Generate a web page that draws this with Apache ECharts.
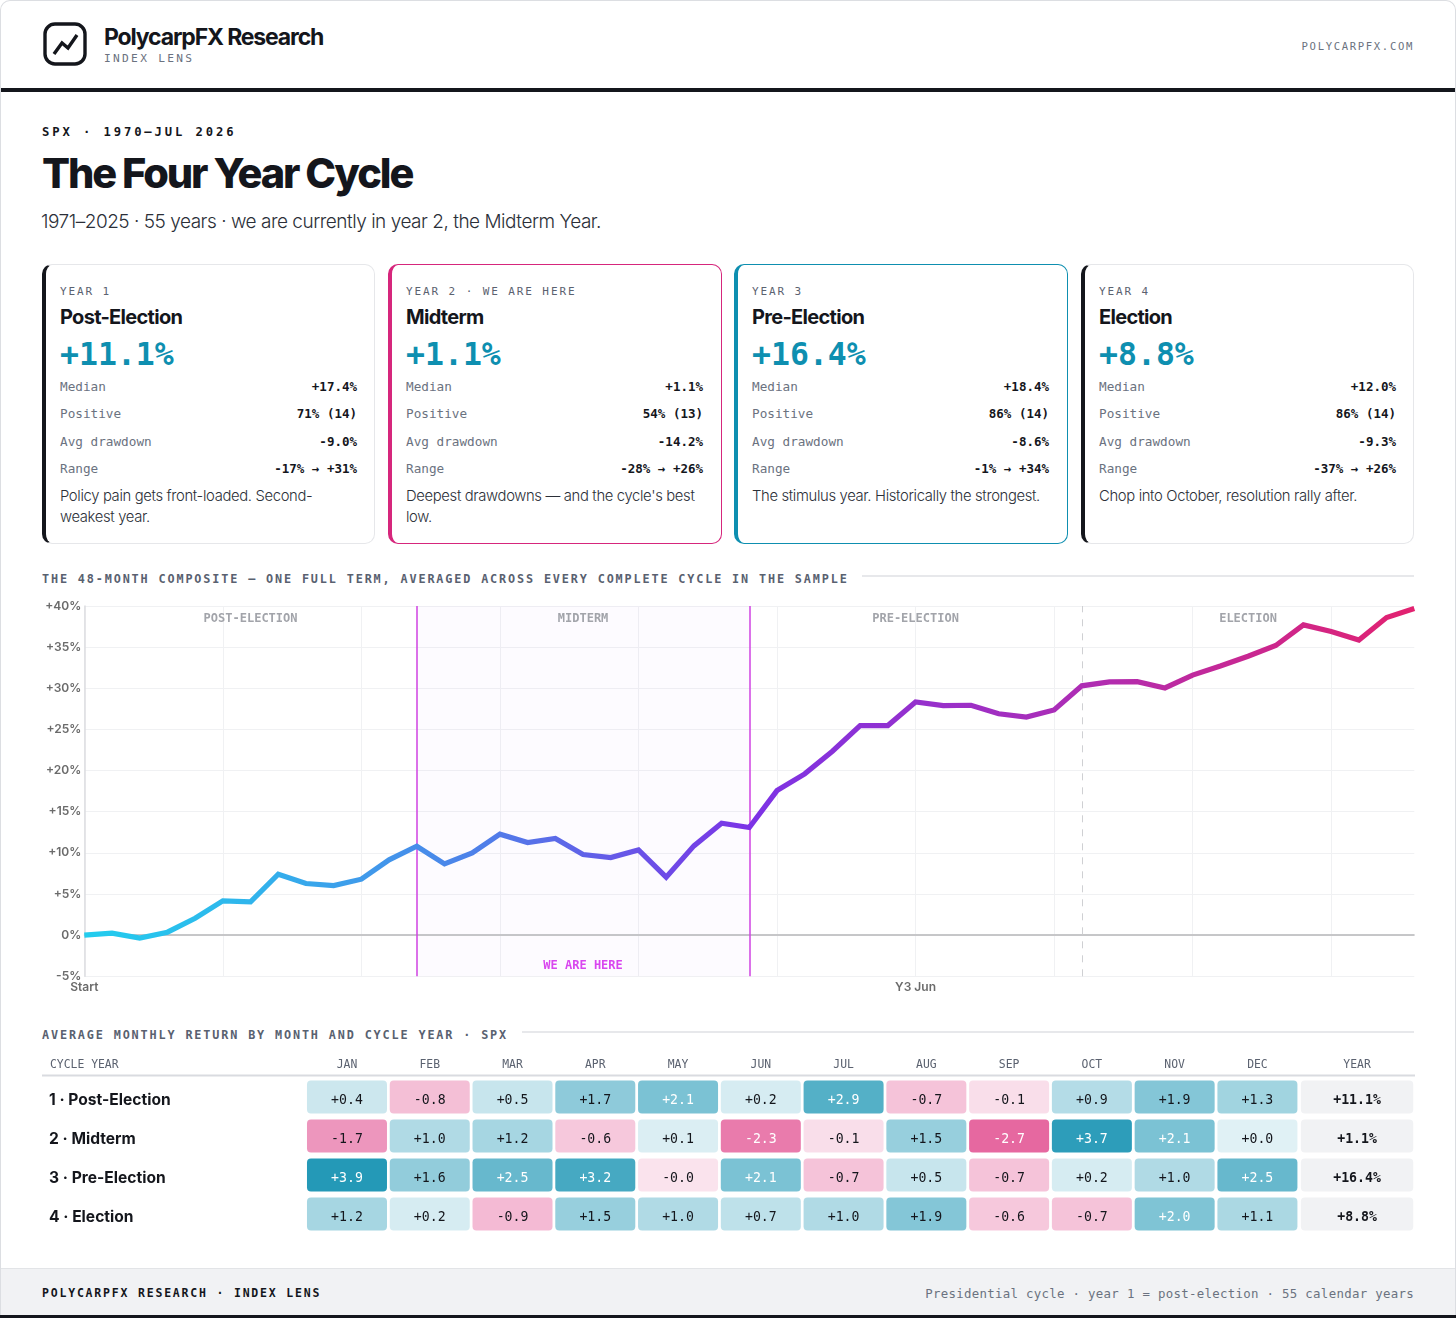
<!DOCTYPE html>
<html><head><meta charset="utf-8">
<script src="https://cdn.jsdelivr.net/npm/echarts@6/dist/echarts.min.js"></script>
<style>
html,body{margin:0;padding:0;background:#fff;width:1456px;height:1318px;overflow:hidden}
#page{position:absolute;left:0;top:0;width:1454px;height:1315px;border:1px solid #dcdee2;border-bottom:none;border-radius:10px 10px 0 0;overflow:hidden}
.a{position:absolute;white-space:nowrap}
.sans{font-family:Inter,sans-serif}
.mono{font-family:"DejaVu Sans Mono",monospace}
.card{position:absolute;top:263px;height:278px;box-sizing:content-box;background:#fff;border-radius:10px;border:1px solid #e6e7ea;border-left:4px solid #14161c}
.card .a{left:14px}
.row{position:absolute;left:14px;font:12.7px "DejaVu Sans Mono",monospace;color:#6b7280;height:16px;line-height:16px}
.row b{position:absolute;top:0;color:#14161c;font-weight:700;white-space:nowrap;font-size:12.5px}
.sec{font:700 11.8px "DejaVu Sans Mono",monospace;color:#596170;letter-spacing:1.86px}
.hr{position:absolute;height:2px;background:#e7e8eb}
</style></head><body>
<div id="page">
<svg class="a" style="left:42px;top:21px" width="45" height="45" viewBox="0 0 45 45"><rect x="2" y="2" width="40" height="40" rx="10" fill="none" stroke="#14161c" stroke-width="3.4"/><polyline points="11,32 19,21 25,26 34,13" fill="none" stroke="#14161c" stroke-width="3.4" stroke-linejoin="miter"/></svg>
<div class="a sans" style="left:103px;top:21px;font-size:23px;font-weight:700;letter-spacing:-1.15px;color:#14161c;line-height:30px">PolycarpFX Research</div>
<div class="a mono" style="left:103px;top:51px;font-size:11.2px;letter-spacing:2.3px;color:#6b7280;line-height:14px">INDEX LENS</div>
<div class="a mono" style="right:41px;top:38px;font-size:10.6px;letter-spacing:1.65px;color:#6b7280;line-height:14px">POLYCARPFX.COM</div>
<div class="a" style="left:0;top:87px;width:1456px;height:4px;background:#14161c"></div>
<div class="a mono" style="left:41px;top:124px;font-size:12.2px;font-weight:700;letter-spacing:2.9px;color:#14161c;line-height:15px">SPX · 1970–JUL 2026</div>
<div class="a sans" style="left:41px;top:146px;font-size:41.5px;font-weight:800;letter-spacing:-2.1px;color:#14161c;line-height:52px">The Four Year Cycle</div>
<div class="a sans" style="left:40px;top:208px;font-size:19px;font-weight:300;letter-spacing:-.48px;color:#2b2f38;line-height:26px">1971–2025 · 55 years · we are currently in year 2, the Midterm Year.</div>
<div id="cards"></div>
<div class="a sec" style="left:41px;top:571px;line-height:15px">THE 48-MONTH COMPOSITE — ONE FULL TERM, AVERAGED ACROSS EVERY COMPLETE CYCLE IN THE SAMPLE</div>
<div class="hr" style="left:861px;top:574px;width:552px"></div>
<div id="lineChart" class="a" style="left:-1px;top:594px;width:1456px;height:412px"></div>
<div class="a sec" style="left:41px;top:1027px;line-height:15px">AVERAGE MONTHLY RETURN BY MONTH AND CYCLE YEAR · SPX</div>
<div class="hr" style="left:521px;top:1030px;width:892px"></div>
<div id="heatChart" class="a" style="left:-1px;top:1049px;width:1456px;height:195px"></div>
<div class="a" style="left:0;top:1267px;width:1456px;height:47px;background:#f1f2f4;border-top:1px solid #e2e4e7"></div>
<div class="a mono" style="left:41px;top:1285px;font-size:11.5px;font-weight:700;letter-spacing:1.8px;color:#14161c;line-height:15px">POLYCARPFX RESEARCH · INDEX LENS</div>
<div class="a mono" style="right:41px;top:1285px;font-size:12.4px;letter-spacing:.3px;color:#6b7280;line-height:15px">Presidential cycle · year 1 = post-election · 55 calendar years</div>
</div>
<div class="a" style="left:0;top:1315px;width:1456px;height:3px;background:#14161c"></div>
<script>
// ---- card data ----
const cardLeft   = [42, 388, 734, 1081];
const cardEyebrow= ['YEAR 1','YEAR 2 · WE ARE HERE','YEAR 3','YEAR 4'];
const cardName   = ['Post-Election','Midterm','Pre-Election','Election'];
const cardMean   = ['+11.1%','+1.1%','+16.4%','+8.8%'];
const cardMedian = ['+17.4%','+1.1%','+18.4%','+12.0%'];
const cardPositive=['71% (14)','54% (13)','86% (14)','86% (14)'];
const cardDrawdown=['-9.0%','-14.2%','-8.6%','-9.3%'];
const cardRange  = ['-17% → +31%','-28% → +26%','-1% → +34%','-37% → +26%'];
const cardNote   = ['Policy pain gets front-loaded. Second-<br>weakest year.','Deepest drawdowns — and the cycle\'s best<br>low.','The stimulus year. Historically the strongest.','Chop into October, resolution rally after.'];
const cardBorder = ['#e6e7ea','#d6267c','#0e8fb0','#e6e7ea'];
const cardAccent = ['#14161c','#d6267c','#0e8fb0','#14161c'];
// ---- composite line ----
const compositeValues = [0,0.25,-0.35,0.36,2.06,4.17,4.05,7.4,6.28,6.03,6.8,9.15,10.8,8.66,10.0,12.27,11.25,11.74,9.8,9.43,10.36,7.04,10.85,13.6,13.08,17.57,19.6,22.35,25.47,25.47,28.34,27.9,27.94,26.9,26.5,27.37,30.3,30.77,30.8,30.04,31.6,32.7,33.9,35.2,37.7,36.9,35.87,38.6,39.7];
const xTickLabels = {0:'Start',30:'Y3 Jun'};
const phaseNames = ['POST-ELECTION','MIDTERM','PRE-ELECTION','ELECTION'];
// ---- monthly heat table ----
const months = ['JAN','FEB','MAR','APR','MAY','JUN','JUL','AUG','SEP','OCT','NOV','DEC'];
const cycleYears = ['1 · Post-Election','2 · Midterm','3 · Pre-Election','4 · Election'];
const year1Months = [0.4,-0.8,0.5,1.7,2.1,0.2,2.9,-0.7,-0.1,0.9,1.9,1.3];
const year2Months = [-1.7,1.0,1.2,-0.6,0.1,-2.3,-0.1,1.5,-2.7,3.7,2.1,0.0];
const year3Months = [3.9,1.6,2.5,3.2,-0.0,2.1,-0.7,0.5,-0.7,0.2,1.0,2.5];
const year4Months = [1.2,0.2,-0.9,1.5,1.0,0.7,1.0,1.9,-0.6,-0.7,2.0,1.1];
const yearTotals = ['+11.1%','+1.1%','+16.4%','+8.8%'];

// cards
const cardsEl = document.getElementById('cards');
cardLeft.forEach((l,i)=>{
  const rows = [['Median',cardMedian[i],121],['Positive',cardPositive[i],148],['Avg drawdown',cardDrawdown[i],176],['Range',cardRange[i],203]];
  const accent = i===1||i===2;
  let h = `<div class="card" style="left:${l-1}px;width:${accent?329:328}px;border-color:${cardBorder[i]};border-left-color:${cardAccent[i]};${accent?'border-width:1.3px 1.3px 1.3px 4px;':''}">`;
  h += `<div class="a mono" style="top:20px;font-size:11px;letter-spacing:1.9px;color:#5b6270;line-height:14px">${cardEyebrow[i]}</div>`;
  h += `<div class="a sans" style="top:39px;font-size:20px;font-weight:700;letter-spacing:-.7px;color:#14161c;line-height:26px">${cardName[i]}</div>`;
  h += `<div class="a mono" style="top:69px;font-size:31.5px;font-weight:700;letter-spacing:0;color:#0e8fb0;line-height:40px">${cardMean[i]}</div>`;
  rows.forEach(r=>{h += `<div class="row" style="top:${r[2]-7}px;width:297px">${r[0]}<b style="right:0">${r[1]}</b></div>`;});
  h += `<div class="a sans" style="top:221px;font-size:14.8px;font-weight:300;letter-spacing:-.34px;color:#2b2f38;line-height:21px">${cardNote[i]}</div>`;
  h += '</div>';
  cardsEl.insertAdjacentHTML('beforeend',h);
});

const MONO = '"DejaVu Sans Mono",monospace';
// line chart
const lineChart = echarts.init(document.getElementById('lineChart'));
const categories = compositeValues.map((_,i)=>String(i));
const phaseAreas = phaseNames.map((n,i)=>[
  {xAxis:String(i*12), name:n, itemStyle:{color: i===1?'rgba(168,85,247,0.025)':'rgba(0,0,0,0)'},
   label:{show:true,position:'insideTop',distance:7,formatter:n,fontFamily:MONO,fontSize:12,fontWeight:700,color:'#a2a4aa'}},
  {xAxis:String((i+1)*12)}
]);
lineChart.setOption({
  animation:false,
  grid:{left:84.3,top:11,width:1330,height:370.3,containLabel:false},
  xAxis:{type:'category',data:categories,boundaryGap:false,
    axisLine:{lineStyle:{color:'#dcdde0',width:1.5}},axisTick:{show:false},
    splitLine:{show:true,interval:i=>i%5===0,lineStyle:{color:'#f0f1f3',width:1}},
    axisLabel:{interval:0,margin:5,formatter:(v,i)=>xTickLabels[i]||'',fontFamily:'Inter',fontSize:12,fontWeight:600,color:'#6b6b6b',hideOverlap:false,showMinLabel:true,showMaxLabel:true}},
  yAxis:{type:'value',min:-5,max:40,interval:5,
    axisLine:{show:true,lineStyle:{color:'#dcdde0',width:1.5}},axisTick:{show:false},
    splitLine:{show:true,lineStyle:{color:'#f0f1f3',width:1}},
    axisLabel:{margin:3,formatter:v=>v>0?'+'+v+'%':v+'%',fontFamily:'Inter',fontSize:12,fontWeight:600,color:'#6b6b6b'}},
  series:[
   {type:'line',data:compositeValues,showSymbol:false,symbol:'none',smooth:false,z:5,clip:false,
    lineStyle:{width:5.2,cap:'butt',join:'miter',color:new echarts.graphic.LinearGradient(0,0,1,0,[
      {offset:0,color:'#22cdee'},{offset:.12,color:'#2fb6ec'},{offset:.3,color:'#4f7fe9'},{offset:.5,color:'#7c33e6'},{offset:.75,color:'#ae2db4'},{offset:1,color:'#e3226f'}])},
    markArea:{silent:true,data:phaseAreas,z:1},
    markLine:{silent:true,symbol:'none',z:3,label:{show:false},data:[
      {yAxis:0,lineStyle:{color:'#bcbcbf',width:1.6,type:'solid'}},
      {xAxis:'12',lineStyle:{color:'#cf42e2',width:1.5,type:'solid'}},
      {xAxis:'24',lineStyle:{color:'#cf42e2',width:1.5,type:'solid'}},
      {xAxis:'36',lineStyle:{color:'#cfd0d3',width:1,type:[7,7]}}
    ]}},
   {type:'line',data:[],markArea:{silent:true,itemStyle:{color:'rgba(0,0,0,0)'},data:[[
      {xAxis:'12',label:{show:true,position:'insideBottom',distance:4,formatter:'WE ARE HERE',fontFamily:MONO,fontSize:12,fontWeight:700,color:'#d946ef'}},
      {xAxis:'24'}]]}}
  ]
});

// heat chart
const heatChart = echarts.init(document.getElementById('heatChart'));
const yearRows = [year1Months,year2Months,year3Months,year4Months];
const heatData = [];
yearRows.forEach((r,y)=>r.forEach((v,m)=>heatData.push([m,y,v])));
const fmt = v => (v<0||Object.is(v,-0)?'-':'+')+Math.abs(v).toFixed(1);
const heatColor = v => {
  const neg = v<0||Object.is(v,-0);
  const a = neg ? 0.13+0.21*Math.abs(v) : 0.13+0.2*v;
  return neg ? `rgba(219,39,119,${a})` : `rgba(14,143,176,${a})`;
};
function cell(w,h,fill,txt,color,weight,p,api){
  const c = api.coord([api.value(0),api.value(1)]);
  return {type:'group',children:[
    {type:'rect',shape:{x:c[0]-w/2,y:c[1]-h/2,width:w,height:h,r:4},style:{fill}},
    {type:'text',x:c[0],y:c[1]+3.3,style:{text:txt,fill:color,font:`${weight} 13.2px ${MONO}`,align:'center',verticalAlign:'middle'}}
  ]};
}
heatChart.setOption({
  animation:false,
  grid:[{left:305.6,top:27.6,width:993.2,height:156},{left:1299.7,top:27.6,width:114.7,height:156}],
  xAxis:[
   {gridIndex:0,type:'category',data:months,position:'top',axisLine:{show:false},axisTick:{show:false},
    axisLabel:{interval:0,margin:7,fontFamily:MONO,fontSize:11.4,fontWeight:500,color:'#5b6270'}},
   {gridIndex:1,type:'category',data:['YEAR'],position:'top',axisLine:{show:false},axisTick:{show:false},
    axisLabel:{margin:7,fontFamily:MONO,fontSize:11.4,fontWeight:500,color:'#5b6270'}}],
  yAxis:[
   {gridIndex:0,type:'category',data:cycleYears,inverse:true,axisLine:{show:false},axisTick:{show:false},
    axisLabel:{margin:256.6,align:'left',verticalAlign:'top',lineHeight:6,fontFamily:'Inter',fontSize:15.6,fontWeight:700,color:'#14161c'}},
   {gridIndex:1,type:'category',data:cycleYears,inverse:true,axisLine:{show:false},axisTick:{show:false},axisLabel:{show:false}}],
  graphic:[
   {type:'text',left:50,top:10,style:{text:'CYCLE YEAR',font:`500 11.4px ${MONO}`,fill:'#5b6270'}},
   {type:'rect',left:42,top:24.5,shape:{width:1373,height:2},style:{fill:'#d9dbe0'}}
  ],
  series:[
   {type:'custom',xAxisIndex:0,yAxisIndex:0,data:heatData,clip:false,encode:{x:0,y:1},
    renderItem:(p,api)=>{const v=heatData[p.dataIndex][2];
      return cell(80,33,heatColor(v),fmt(v),Math.abs(v)>=2?'#ffffff':'#14161c','500',p,api);}},
   {type:'custom',xAxisIndex:1,yAxisIndex:1,data:yearTotals.map((t,i)=>[0,i]),clip:false,encode:{x:0,y:1},
    renderItem:(p,api)=>cell(112.4,33,'#f1f2f4',yearTotals[p.dataIndex],'#14161c','700',p,api)}
  ]
});
</script>
</body></html>
